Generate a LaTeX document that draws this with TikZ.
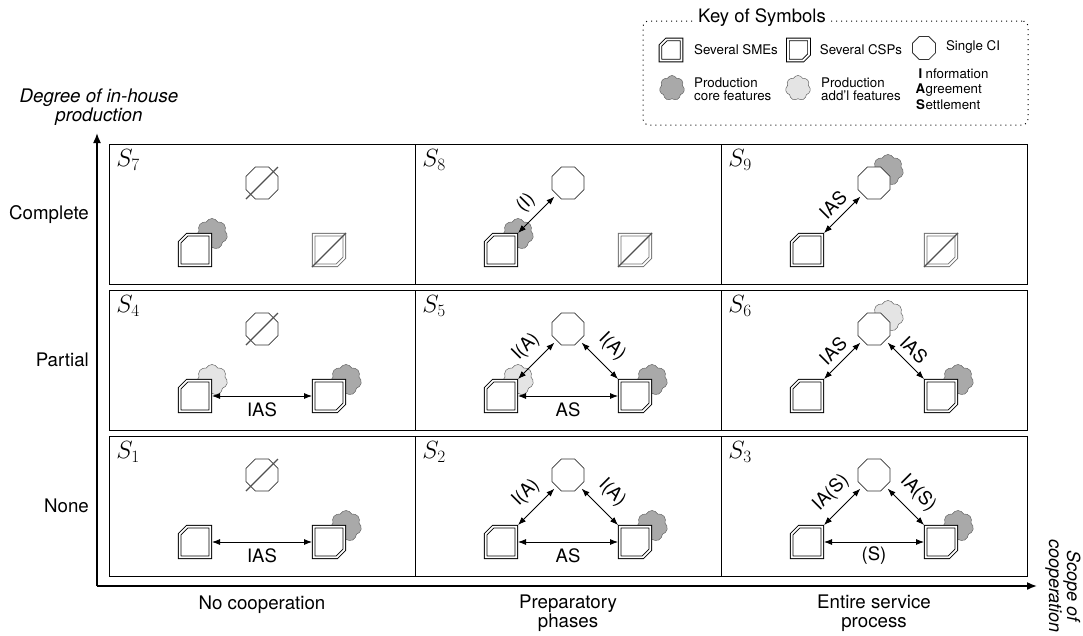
\documentclass[tikz,border=0pt]{standalone}
\usepackage{fontspec}
\setmainfont{TeX Gyre Heros}
\usetikzlibrary{shapes.symbols,arrows.meta}
\definecolor{coregray}{HTML}{A9A9A9}
\definecolor{addlgray}{HTML}{E4E4E4}
\definecolor{offgray}{HTML}{707070}
\definecolor{slashgray}{HTML}{505050}
\newcommand{\fs}[1]{\fontsize{#1}{#1}\selectfont}
\tikzset{
  cellbox/.style={draw,line width=.9pt,minimum width=306pt,minimum height=140pt,inner sep=0pt,outer sep=0pt},
  axisline/.style={line width=1.6pt,-{Latex[length=10pt,width=8pt]}},
  conn/.style={line width=0.8pt,{Latex[length=8pt,width=6pt]}-{Latex[length=8pt,width=6pt]}},
  holder/.style={minimum width=#1,minimum height=#1,inner sep=0pt,outer sep=0pt},
  partyline/.style={draw,fill=white,double=white,double distance=1.8pt,line width=.85pt,line join=miter},
  octline/.style={draw=black!80,fill=white,line width=.8pt,line join=round},
  cloudbase/.style={cloud,cloud puffs=7,cloud puff arc=125,aspect=1,draw=black!60,line width=.5pt,minimum width=#1,minimum height=#1,inner sep=0pt},
  core/.style={cloudbase=31pt,fill=coregray},
  addl/.style={cloudbase=31pt,fill=addlgray},
  corekey/.style={cloudbase=25pt,fill=coregray},
  addlkey/.style={cloudbase=25pt,fill=addlgray},
  off/.style={draw=offgray},
  slash/.style={line width=1.3pt,draw=slashgray},
  celltag/.style={font=\fs{25},inner sep=0pt},
  lab/.style={font=\fs{18.5},inner sep=0pt},
  axislab/.style={font=\fs{18.7},align=center,inner sep=0pt},
  keylab/.style={font=\fs{13.3},align=left,inner sep=0pt},
}
% #1 extra line options, #2 name, #3 position, #4 outer size, #5 chamfer
\newcommand{\smenode}[5][]{%
  \node[holder=#4] (#2) at (#3) {};
  \draw[partyline,#1] ([shift={(1.7+#5,1.7)}]#2.north west) -- ([shift={(-1.7,1.7)}]#2.north east)
    -- ([shift={(-1.7,-1.7)}]#2.south east) -- ([shift={(1.7,-1.7)}]#2.south west)
    -- ([shift={(1.7,1.7+#5)}]#2.north west) -- cycle;}
\newcommand{\cspnode}[5][]{%
  \node[holder=#4] (#2) at (#3) {};
  \draw[partyline,#1] ([shift={(1.7,1.7)}]#2.north west) -- ([shift={(-1.7,1.7)}]#2.north east)
    -- ([shift={(-1.7,-1.7-#5)}]#2.south east) -- ([shift={(-1.7-#5,-1.7)}]#2.south east)
    -- ([shift={(1.7,-1.7)}]#2.south west) -- cycle;}
% #1 name, #2 position, #3 size, #4 corner cut
\newcommand{\cinode}[4]{%
  \node[holder=#3] (#1) at (#2) {};
  \draw[octline] ([xshift=#4]#1.north west) -- ([xshift=-#4]#1.north east)
    -- ([shift={(0,#4)}]#1.north east) -- ([shift={(0,-#4)}]#1.south east)
    -- ([xshift=-#4]#1.south east) -- ([xshift=#4]#1.south west)
    -- ([shift={(0,-#4)}]#1.south west) -- ([shift={(0,#4)}]#1.north west) -- cycle;
  \coordinate (#1sw) at ([shift={(2.3,-2.3)}]#1.south west);
  \coordinate (#1se) at ([shift={(-2.3,-2.3)}]#1.south east);}
\begin{document}
\begin{tikzpicture}[x=1pt,y=-1pt]
\useasboundingbox (0,0) rectangle (1083,635);

% Cells
\foreach \nm/\cx/\cy/\tg in {a/109/144/7,b/415/144/8,c/721/144/9,d/109/290/4,e/415/290/5,f/721/290/6,g/109/436/1,h/415/436/2,i/721/436/3}{
  \node[cellbox] (cell\nm) at (\cx+153,\cy+70) {};
  \node[celltag] (tag\nm) at (\cx+19,\cy+16) {$S_{\tg}$};
}

% S7
\node[core] (ca) at (212,234) {};
\smenode{ma}{195,250}{34pt}{7.5}
\cspnode[off]{pa}{329,250}{34pt}{7.5}
\draw[slash] (pa.south west) -- (pa.north east);
\cinode{oa}{262,183}{32pt}{9.4}
\draw[slash] (oa.south west) -- (oa.north east);

% S8
\node[core] (cb) at (518,234) {};
\smenode{mb}{501,250}{34pt}{7.5}
\cspnode[off]{pb}{635,250}{34pt}{7.5}
\draw[slash] (pb.south west) -- (pb.north east);
\cinode{ob}{568,183}{32pt}{9.4}
\draw[conn] (mb.north east) -- (obsw);
\node[lab,rotate=45] (lb) at (526,203) {(I)};

% S9
\node[core] (oc2) at (888,170) {};
\cinode{oc}{874,183}{32pt}{9.4}
\smenode{mc}{807,250}{34pt}{7.5}
\cspnode[off]{pc}{941,250}{34pt}{7.5}
\draw[slash] (pc.south west) -- (pc.north east);
\draw[conn] (mc.north east) -- (ocsw);
\node[lab,rotate=45] (lc) at (833,205) {IAS};

% S4
\node[addl] (cd) at (212,380) {};
\smenode{md}{195,396}{34pt}{7.5}
\node[core] (cd2) at (346,380) {};
\cspnode{pd}{329,396}{34pt}{7.5}
\cinode{od}{262,329}{32pt}{9.4}
\draw[slash] (od.south west) -- (od.north east);
\draw[conn] (md.east) -- (pd.west);
\node[lab] (ld) at (262,410) {IAS};

% S5
\node[addl] (ce) at (518,380) {};
\smenode{me}{501,396}{34pt}{7.5}
\node[core] (ce2) at (652,380) {};
\cspnode{pe}{635,396}{34pt}{7.5}
\cinode{oe}{568,329}{32pt}{9.4}
\draw[conn] (me.north east) -- (oesw);
\draw[conn] (oese) -- (pe.north west);
\draw[conn] (me.east) -- (pe.west);
\node[lab,rotate=45] (le1) at (526,347) {I(A)};
\node[lab,rotate=-45] (le2) at (612,347) {I(A)};
\node[lab] (le3) at (568,410) {AS};

% S6
\node[addl] (of2) at (888,316) {};
\cinode{of}{874,329}{32pt}{9.4}
\smenode{mf}{807,396}{34pt}{7.5}
\node[core] (cf) at (958,380) {};
\cspnode{pf}{941,396}{34pt}{7.5}
\draw[conn] (mf.north east) -- (ofsw);
\draw[conn] (ofse) -- (pf.north west);
\node[lab,rotate=45] (lf1) at (833,351) {IAS};
\node[lab,rotate=-45] (lf2) at (914,350) {IAS};

% S1
\smenode{mg}{195,542}{34pt}{7.5}
\node[core] (cg) at (346,526) {};
\cspnode{pg}{329,542}{34pt}{7.5}
\cinode{og}{262,475}{32pt}{9.4}
\draw[slash] (og.south west) -- (og.north east);
\draw[conn] (mg.east) -- (pg.west);
\node[lab] (lg) at (262,556) {IAS};

% S2
\smenode{mh}{501,542}{34pt}{7.5}
\node[core] (ch) at (652,526) {};
\cspnode{ph}{635,542}{34pt}{7.5}
\cinode{oh}{568,475}{32pt}{9.4}
\draw[conn] (mh.north east) -- (ohsw);
\draw[conn] (ohse) -- (ph.north west);
\draw[conn] (mh.east) -- (ph.west);
\node[lab,rotate=45] (lh1) at (526,493) {I(A)};
\node[lab,rotate=-45] (lh2) at (612,493) {I(A)};
\node[lab] (lh3) at (568,556) {AS};

% S3
\smenode{mi}{807,542}{34pt}{7.5}
\node[core] (ci3) at (958,526) {};
\cspnode{pi}{941,542}{34pt}{7.5}
\cinode{oi}{874,475}{32pt}{9.4}
\draw[conn] (mi.north east) -- (oisw);
\draw[conn] (oise) -- (pi.north west);
\draw[conn] (mi.east) -- (pi.west);
\node[lab,rotate=45] (li1) at (831,493) {IA(S)};
\node[lab,rotate=-45] (li2) at (918,493) {IA(S)};
\node[lab] (li3) at (874,556) {(S)};

% Axes
\coordinate (origin) at (97,586);
\coordinate (ytip) at (97,133);
\coordinate (xtip) at (1037,586);
\draw[axisline] (origin) -- (ytip);
\draw[axisline] (origin) -- (xtip);
\node[axislab,font=\fs{18.7}\itshape] (yl) at (99,107) {Degree of in-house\\production};
\node[axislab,font=\fs{18}\itshape,rotate=-90] (xl) at (1063,586) {Scope of\\cooperation};
\node[axislab,anchor=east] (r1) at (89,214.5) {Complete};
\node[axislab,anchor=east] (r2) at (89,360) {Partial};
\node[axislab,anchor=east] (r3) at (89,506) {None};
\node[axislab] (c1) at (262,604.5) {No cooperation};
\node[axislab] (c2) at (568,613.5) {Preparatory\\phases};
\node[axislab] (c3) at (874,613.5) {Entire service\\process};

% Key
\node[draw,dash pattern=on 1pt off 4pt,rounded corners=6pt,line width=1pt,minimum width=385pt,minimum height=104pt,inner sep=0pt] (keybox) at (835.5,73) {};
\node[fill=white,font=\fs{18.5},inner sep=3pt] (keytitle) at (762,18) {Key of Symbols};
\smenode{k1}{671,50}{24.5pt}{6}
\node[keylab] (k1t) at (736,50) {Several SMEs};
\cspnode{k2}{798.5,50}{24.5pt}{6}
\node[keylab] (k2t) at (861,50) {Several CSPs};
\cinode{k3}{924,48}{23pt}{6.7}
\node[keylab] (k3t) at (973,47) {Single CI};
\node[corekey] (k4) at (672,88) {};
\node[keylab,anchor=west] (k4t) at (694,89) {Production\\core features};
\node[addlkey] (k5) at (798,88) {};
\node[keylab,anchor=west] (k5t) at (821,89) {Production\\add'l features};
\node[keylab,anchor=west,align=left] (k6t) at (915,89) {\makebox[10.5pt][c]{\textbf{I}}nformation\\[2pt]\makebox[10.5pt][c]{\textbf{A}}greement\\[2pt]\makebox[10.5pt][c]{\textbf{S}}ettlement};
\end{tikzpicture}
\end{document}
